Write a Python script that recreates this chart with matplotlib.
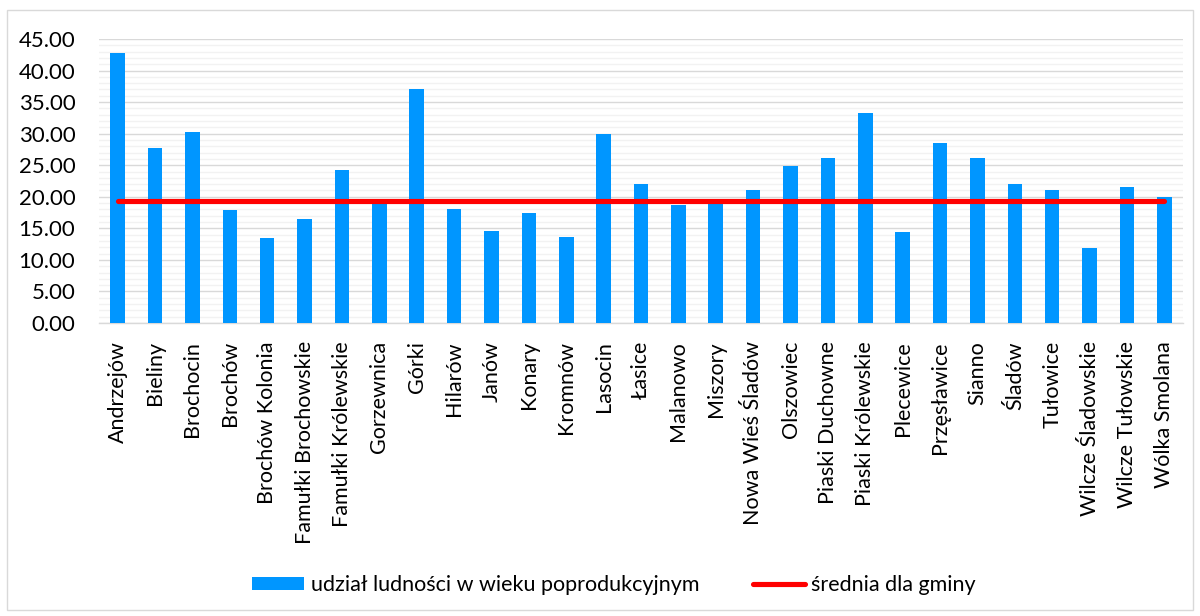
import matplotlib
matplotlib.use("Agg")
import matplotlib.pyplot as plt
from matplotlib.ticker import MultipleLocator, FormatStrFormatter
from matplotlib.lines import Line2D
from matplotlib.patches import Patch, Rectangle

plt.rcParams['font.family'] = ['Lato', 'DejaVu Sans']

categories = ["Andrzejów", "Bieliny", "Brochocin", "Brochów", "Brochów Kolonia",
              "Famułki Brochowskie", "Famułki Królewskie", "Gorzewnica", "Górki",
              "Hilarów", "Janów", "Konary", "Kromnów", "Lasocin", "Łasice",
              "Malanowo", "Miszory", "Nowa Wieś Śladów", "Olszowiec",
              "Piaski Duchowne", "Piaski Królewskie", "Plecewice", "Przęsławice",
              "Sianno", "Śladów", "Tułowice", "Wilcze Śladowskie",
              "Wilcze Tułowskie", "Wólka Smolana"]
share = [42.8, 27.7, 30.3, 17.9, 13.4, 16.4, 24.2, 19.5, 37.1, 18.1, 14.6, 17.4,
         13.7, 29.9, 22.0, 18.7, 19.2, 21.1, 24.9, 26.2, 33.3, 14.4, 28.6, 26.2,
         22.1, 21.1, 11.9, 21.6, 19.9]
mean_value = 19.33
series_labels = ["udział ludności w wieku poprodukcyjnym", "średnia dla gminy"]

bar_color = "#0096FF"
line_color = "#FF0000"

fig = plt.figure(figsize=(12, 6.16), dpi=100)
ax = fig.add_axes([99/1200, 1-323/616, (1183-99)/1200, (323-39)/616])

x = list(range(len(categories)))
ax.bar(x, share, width=0.39, color=bar_color, zorder=3)
ax.plot(x, [mean_value]*len(x), color=line_color, lw=3.7, solid_capstyle='round', zorder=4)

ax.set_xlim(-0.5, len(categories)-0.5)
ax.set_ylim(0, 45)
ax.yaxis.set_major_locator(MultipleLocator(5))
ax.yaxis.set_minor_locator(MultipleLocator(1))
ax.yaxis.set_major_formatter(FormatStrFormatter('%.2f'))
ax.grid(axis='y', which='major', color='#D9D9D9', lw=1.0, zorder=0)
ax.grid(axis='y', which='minor', color='#F2F2F2', lw=1.0, zorder=0)
ax.set_axisbelow(True)

ax.set_xticks(x)
ax.set_xticklabels(categories, rotation=90, fontsize=15.5, color='black')
ax.tick_params(axis='both', which='both', length=0)
ax.tick_params(axis='x', pad=13)
ax.tick_params(axis='y', labelsize=16, pad=17)
for lbl in ax.get_yticklabels():
    lbl.set_horizontalalignment('right')
for s in ['top', 'right', 'left']:
    ax.spines[s].set_visible(False)
ax.spines['bottom'].set_color('#D9D9D9')
ax.spines['bottom'].set_linewidth(1.0)

handles = [Patch(facecolor=bar_color, edgecolor='none'),
           Line2D([0], [0], color=line_color, lw=3.7, solid_capstyle='round')]
fig.legend(handles, series_labels, loc='center', bbox_to_anchor=(614/1200, 1-585/616),
           ncol=2, frameon=False, fontsize=15.5, handlelength=2.4, handleheight=0.6,
           handletextpad=0.3, columnspacing=2.5)

fig.patches.append(Rectangle((7/1200, 1-610/616), (1193-7)/1200, (610-10)/616,
                             transform=fig.transFigure, fill=False,
                             edgecolor='#D9D9D9', lw=1.0))

fig.savefig("out.png", dpi=100)
